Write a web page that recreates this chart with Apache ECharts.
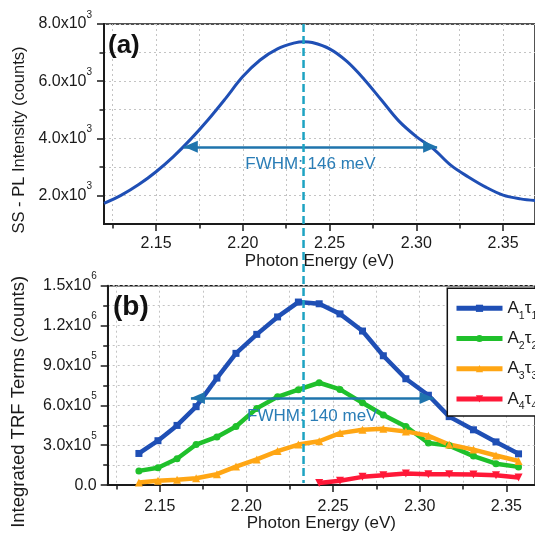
<!DOCTYPE html>
<html>
<head>
<meta charset="utf-8">
<script src="https://cdn.jsdelivr.net/npm/echarts@6/dist/echarts.min.js"></script>
<style>
  html, body { margin: 0; padding: 0; background: #ffffff; }
  #chart { width: 535px; height: 533px; }
</style>
</head>
<body>
<div id="chart"></div>
<script>
// ---- (a) steady-state PL spectrum ----
const plEnergy = [2.120, 2.130, 2.140, 2.150, 2.160, 2.170, 2.180, 2.190, 2.200, 2.210,
                  2.220, 2.230, 2.235, 2.240, 2.250, 2.260, 2.270, 2.280, 2.290, 2.300,
                  2.310, 2.320, 2.330, 2.340, 2.350, 2.360, 2.370];
const plIntensity = [1720, 2010, 2380, 2830, 3360, 3970, 4650, 5390, 6160, 6740,
                     7130, 7340, 7380, 7350, 7130, 6690, 6060, 5330, 4600, 4060,
                     3620, 3050, 2645, 2290, 2010, 1880, 1810];

// ---- (b) integrated TRF amplitude terms ----
const trfEnergy = [2.138, 2.149, 2.160, 2.171, 2.183, 2.194, 2.206, 2.218, 2.230, 2.242,
                   2.254, 2.267, 2.279, 2.292, 2.305, 2.317, 2.331, 2.344, 2.357];
const a1t1 = [238000, 334000, 449000, 590000, 805000, 991000, 1134000, 1265000, 1377000, 1364000,
              1288000, 1159000, 973000, 800000, 676000, 515000, 416000, 325000, 235000];
const a2t2 = [107000, 131000, 198000, 305000, 362000, 441000, 577000, 664000, 718000, 770000,
              720000, 619000, 527000, 441000, 317000, 297000, 218000, 161000, 137000];
const a3t3 = [20000, 33000, 40000, 52000, 82000, 139000, 193000, 256000, 305000, 330000,
              391000, 416000, 423000, 404000, 371000, 305000, 267000, 223000, 181000];
const a4t4 = [null, null, null, null, null, null, null, null, null, 15000,
              33000, 62000, 74000, 87000, 82000, 82000, 80000, 74000, 57000];
const seriesNames = ['A1τ1', 'A2τ2', 'A3τ3', 'A4τ4'];

// ---- annotations ----
const peakEnergy = 2.235;
const fwhmA = { center: 2.239, width: 0.146, level: 3700, text: 'FWHM: 146 meV' };
const fwhmB = { center: 2.238, width: 0.140, level: 656000, text: 'FWHM: 140 meV' };

// ---- tick values ----
const xMajorTicks = [2.15, 2.20, 2.25, 2.30, 2.35];
const xMinorTicks = [2.125, 2.175, 2.225, 2.275, 2.325];
const yATicks = [2000, 4000, 6000, 8000];
const yAMinorTicks = [3000, 5000, 7000];

const FONT = "'Liberation Sans', Arial, sans-serif";
const INK = '#1a1a1a';
const GRID_DOT = '#c4c4c4';
const ARROW = '#1f74ad';
const FW_TEXT = '#2a7db6';
const DASH = '#1ea3c2';
const colors = ['#1f4fb5', '#1fc02b', '#ffa614', '#ff1838'];

function sciLabel(v) {
  if (v === 0) return '0.0';
  const e = Math.floor(Math.log10(v) + 1e-9);
  const m = v / Math.pow(10, e);
  return m.toFixed(1) + 'x10{sup|' + e + '}';
}

const supRich = { sup: { fontSize: 10, lineHeight: 10, verticalAlign: 'top', color: INK, fontFamily: FONT } };

function pairs(xs, ys) {
  const out = [];
  for (let i = 0; i < xs.length; i++) if (ys[i] != null) out.push([xs[i], ys[i]]);
  return out;
}

// arrow head whose tip sits on the end point of the line
const arrowHead = 'path://M0,14 L6,28 L-6,28 Z M0,0 L0.01,0 L0,0.01 Z';

function fwhmMarkLine(f, labelDist) {
  return {
    silent: true,
    symbol: [arrowHead, arrowHead],
    symbolSize: [12, 28],
    lineStyle: { color: ARROW, width: 2.5, type: 'solid' },
    itemStyle: { color: ARROW },
    label: {
      show: true, position: 'insideMiddleBottom', distance: labelDist,
      formatter: f.text, color: FW_TEXT, fontSize: 17, fontFamily: FONT
    },
    emphasis: { disabled: true },
    data: [[{ coord: [f.center - f.width / 2, f.level] }, { coord: [f.center + f.width / 2, f.level] }]]
  };
}

function xMain(gridIndex, min, max, margin, nameGap) {
  return {
    type: 'value', gridIndex, min, max, position: 'bottom',
    name: 'Photon Energy (eV)', nameLocation: 'middle', nameGap,
    nameTextStyle: { fontSize: 17, color: INK, fontFamily: FONT },
    axisLine: { show: true, lineStyle: { color: INK, width: 2 } },
    axisTick: { show: true, inside: false, length: 7, customValues: xMajorTicks, lineStyle: { color: INK, width: 1.5 } },
    axisLabel: { show: true, customValues: xMajorTicks, margin, fontSize: 16, color: INK, fontFamily: FONT,
                 formatter: v => v.toFixed(2) },
    splitLine: { show: true, lineStyle: { color: GRID_DOT, type: [2, 3], width: 1 } }
  };
}
function xMinor(gridIndex, min, max) {
  return {
    type: 'value', gridIndex, min, max, position: 'bottom',
    axisLine: { show: false },
    axisTick: { show: true, length: 4.5, customValues: xMinorTicks, lineStyle: { color: INK, width: 1.5 } },
    axisLabel: { show: false },
    splitLine: { show: true, lineStyle: { color: GRID_DOT, type: [2, 3], width: 1 } }
  };
}

const chart = echarts.init(document.getElementById('chart'), null, { renderer: 'canvas' });

const option = {
  animation: false,
  backgroundColor: '#ffffff',
  textStyle: { fontFamily: FONT },
  title: [
    { text: '(a)', left: 108, top: 33, padding: 0,
      textStyle: { fontSize: 26, fontWeight: 'bold', color: '#111', fontFamily: FONT } },
    { text: '(b)', left: 113, top: 293, padding: 0,
      textStyle: { fontSize: 28, fontWeight: 'bold', color: '#111', fontFamily: FONT } }
  ],
  grid: [
    { left: 104, top: 24, width: 436, height: 200, show: true, borderColor: INK, borderWidth: 1.5, backgroundColor: 'transparent' },
    { left: 107.7, top: 285.7, width: 428.6, height: 202, show: true, borderColor: INK, borderWidth: 1.5, backgroundColor: 'transparent' }
  ],
  xAxis: [
    xMain(0, 2.12, 2.3684, 12, 26.5),
    xMinor(0, 2.12, 2.3684),
    xMain(1, 2.12, 2.3665, 13, 28),
    xMinor(1, 2.12, 2.3665)
  ],
  yAxis: [
    {
      type: 'value', gridIndex: 0, min: 1000, max: 8000, interval: 1000, position: 'left',
      name: 'SS - PL Intensity (counts)', nameLocation: 'middle', nameGap: 76,
      nameTextStyle: { fontSize: 16.5, color: INK, fontFamily: FONT, padding: [0, 32, 0, 0] },
      axisLine: { show: true, lineStyle: { color: INK, width: 2 } },
      axisTick: { show: true, length: 7, customValues: yATicks, lineStyle: { color: INK, width: 1.5 } },
      axisLabel: { show: true, customValues: yATicks, margin: 12, fontSize: 16, lineHeight: 28, color: INK,
                   fontFamily: FONT, formatter: sciLabel, rich: supRich },
      splitLine: { show: true, lineStyle: { color: GRID_DOT, type: [2, 3], width: 1 } }
    },
    {
      type: 'value', gridIndex: 0, min: 1000, max: 8000, interval: 1000, position: 'left',
      axisLine: { show: false },
      axisTick: { show: true, length: 4.5, customValues: yAMinorTicks, lineStyle: { color: INK, width: 1.5 } },
      axisLabel: { show: false },
      splitLine: { show: true, lineStyle: { color: GRID_DOT, type: [2, 3], width: 1 } }
    },
    {
      type: 'value', gridIndex: 1, min: 0, max: 1500000, interval: 300000, position: 'left',
      name: 'Integrated TRF Terms (counts)', nameLocation: 'middle', nameGap: 79,
      nameTextStyle: { fontSize: 18.5, color: INK, fontFamily: FONT, padding: [0, 33, 0, 0] },
      axisLine: { show: true, lineStyle: { color: INK, width: 2 } },
      axisTick: { show: true, length: 7, lineStyle: { color: INK, width: 1.5 } },
      minorTick: { show: true, splitNumber: 2, length: 4.5, lineStyle: { color: INK, width: 1.5 } },
      axisLabel: { show: true, margin: 11, fontSize: 16, lineHeight: 28, color: INK,
                   fontFamily: FONT, formatter: sciLabel, rich: supRich },
      splitLine: { show: true, lineStyle: { color: GRID_DOT, type: [2, 3], width: 1 } },
      minorSplitLine: { show: true, lineStyle: { color: GRID_DOT, type: [2, 3], width: 1 } }
    }
  ],
  legend: {
    orient: 'vertical', left: 447.3, top: 288.3,
    data: seriesNames,
    backgroundColor: '#ffffff', borderColor: '#111', borderWidth: 1.5, borderRadius: 0,
    padding: [7, 60, 4, 6.7], itemGap: 4.2, itemWidth: 46, itemHeight: 9,
    formatter: name => name.replace(/(\d)/g, '{sub|$1}'),
    textStyle: {
      fontSize: 17, lineHeight: 26, color: INK, fontFamily: FONT,
      rich: { sub: { fontSize: 10.5, lineHeight: 10, verticalAlign: 'bottom', color: INK, fontFamily: FONT } }
    },
    lineStyle: { width: 5 },
    selectedMode: false
  },
  series: [
    {
      type: 'line', xAxisIndex: 0, yAxisIndex: 0, data: pairs(plEnergy, plIntensity),
      smooth: 0.35, showSymbol: false, symbol: 'none',
      lineStyle: { color: colors[0], width: 3 }, itemStyle: { color: colors[0] },
      markLine: fwhmMarkLine(fwhmA, 9)
    },
    {
      name: seriesNames[0], type: 'line', xAxisIndex: 2, yAxisIndex: 2, data: pairs(trfEnergy, a1t1),
      symbol: 'rect', symbolSize: 7, lineStyle: { color: colors[0], width: 4.5 }, itemStyle: { color: colors[0] },
      markLine: fwhmMarkLine(fwhmB, 10)
    },
    {
      name: seriesNames[1], type: 'line', xAxisIndex: 2, yAxisIndex: 2, data: pairs(trfEnergy, a2t2),
      symbol: 'circle', symbolSize: 7, lineStyle: { color: colors[1], width: 4.5 }, itemStyle: { color: colors[1] }
    },
    {
      name: seriesNames[2], type: 'line', xAxisIndex: 2, yAxisIndex: 2, data: pairs(trfEnergy, a3t3),
      symbol: 'triangle', symbolSize: 8, lineStyle: { color: colors[2], width: 4.5 }, itemStyle: { color: colors[2] }
    },
    {
      name: seriesNames[3], type: 'line', xAxisIndex: 2, yAxisIndex: 2, data: pairs(trfEnergy, a4t4),
      symbol: 'triangle', symbolRotate: 180, symbolSize: 8, lineStyle: { color: colors[3], width: 4.5 }, itemStyle: { color: colors[3] }
    }
  ]
};

chart.setOption(option);

// vertical dashed marker at the PL peak, spanning both panels
const px = chart.convertToPixel({ xAxisIndex: 0 }, peakEnergy);
const yTop = chart.convertToPixel({ yAxisIndex: 0 }, 8000);
const yBottom = chart.convertToPixel({ yAxisIndex: 2 }, 0);
chart.setOption({
  graphic: [{
    type: 'line', silent: true, z: 100,
    shape: { x1: px, y1: yTop, x2: px, y2: yBottom - 2 },
    style: { stroke: DASH, lineWidth: 2.5, lineDash: [8, 4] }
  }]
});
</script>
</body>
</html>
